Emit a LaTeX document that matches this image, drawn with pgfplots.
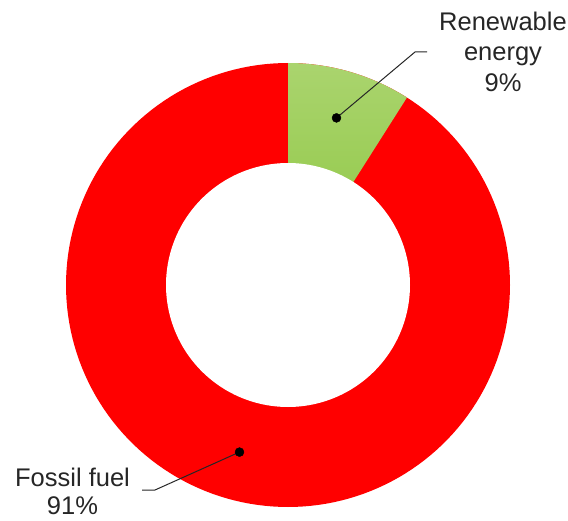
\documentclass[border=0pt]{standalone}
\usepackage{pgfplots}
\pgfplotsset{compat=1.18}
\usepackage{fontspec}
\setmainfont{Liberation Sans}

\definecolor{fossil}{HTML}{FF0000}
\definecolor{renewtop}{HTML}{AAD46E}
\definecolor{renewbot}{HTML}{8CC63F}
\definecolor{labeltext}{HTML}{262626}
\definecolor{leader}{HTML}{262626}

% shares in percent
\def\renewable{9}
\def\fossilfuel{91}
\pgfmathsetmacro{\astart}{90-3.6*\renewable}

\begin{document}
\begin{tikzpicture}
\begin{axis}[
    width=568pt, height=520pt, scale only axis,
    xmin=-288, xmax=280, ymin=-235, ymax=285,
    hide axis, clip=false,
  ]
  % outer ring radius 222, hole radius 122
  \addplot[fill=fossil, draw=none, domain=0:360, samples=181]
    ({222*cos(x)}, {222*sin(x)}) -- cycle;
  \addplot[draw=none, top color=renewtop, middle color=renewbot, bottom color=renewbot,
      domain=\astart:90, samples=40]
    ({222*cos(x)}, {222*sin(x)}) -- (axis cs:0,0) -- cycle;
  \addplot[fill=white, draw=none, domain=0:360, samples=181]
    ({122*cos(x)}, {122*sin(x)}) -- cycle;

  % leader lines
  \addplot[leader, line width=1pt] coordinates {(48.5,167.1) (127,233) (139,233)};
  \addplot[leader, line width=1pt] coordinates {(-48.5,-167.1) (-133,-205) (-146,-205)};
  \addplot[only marks, mark=*, mark size=4.5pt, black]
    coordinates {(48.5,167.1) (-48.5,-167.1)};

  \begin{scope}[every node/.style={anchor=base, text=labeltext, font=\fontsize{25.5}{30}\selectfont, inner sep=0pt}]
    \node at (axis cs:215,254.5) {Renewable};
    \node at (axis cs:215,224) {energy};
    \node at (axis cs:215,193) {\renewable\%};
    \node at (axis cs:-215.5,-201.5) {Fossil fuel};
    \node at (axis cs:-215.5,-229.5) {\fossilfuel\%};
  \end{scope}
\end{axis}
\pgfresetboundingbox
\path (current axis.south west) rectangle (current axis.north east);
\end{tikzpicture}
\end{document}
